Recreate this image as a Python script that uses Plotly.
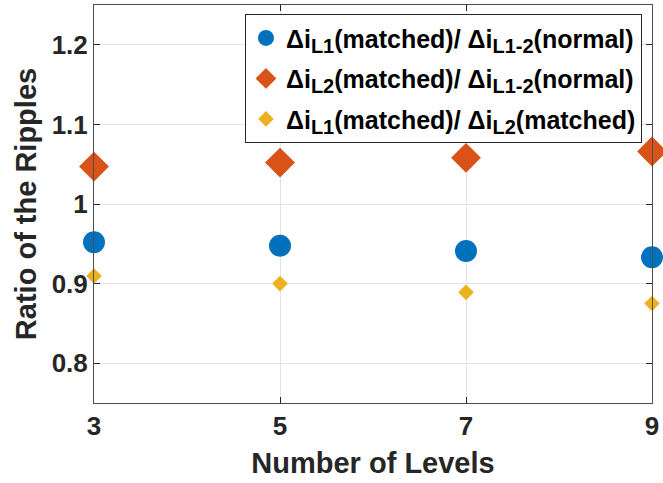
import plotly.graph_objects as go

levels = [3, 5, 7, 9]
ratio_l1_norm = [0.952, 0.9475, 0.941, 0.933]
ratio_l2_norm = [1.047, 1.052, 1.058, 1.066]
ratio_l1_l2 = [0.9095, 0.900, 0.889, 0.875]

SUB = '<sub><span style="font-size:20px">{}</span></sub>'
names = [
    "Δi" + SUB.format("L1") + "(matched)/ Δi" + SUB.format("L1-2") + "(normal)",
    "Δi" + SUB.format("L2") + "(matched)/ Δi" + SUB.format("L1-2") + "(normal)",
    "Δi" + SUB.format("L1") + "(matched)/ Δi" + SUB.format("L2") + "(matched)",
]
x_ticks = [3, 5, 7, 9]
y_ticks = [0.8, 0.9, 1.0, 1.1, 1.2]
y_tick_text = ["0.8", "0.9", "1", "1.1", "1.2"]

FONT = "Liberation Sans"
TXT = "#262626"

fig = go.Figure()
fig.add_trace(go.Scatter(x=levels, y=ratio_l1_norm, mode="markers", name=names[0],
                         legendgroup="a",
                         marker=dict(symbol="circle", size=22, color="#0072BD"),
                         cliponaxis=False))
fig.add_trace(go.Scatter(x=levels, y=ratio_l2_norm, mode="markers", name=names[1],
                         legendgroup="b",
                         marker=dict(symbol="diamond", size=23, color="#D95319"),
                         cliponaxis=False))
fig.add_trace(go.Scatter(x=levels, y=ratio_l1_l2, mode="markers", name=names[2],
                         legendgroup="c",
                         marker=dict(symbol="diamond", size=12, color="#EDB120"),
                         cliponaxis=False))

axis_common = dict(
    showline=True, linecolor="#4d4d4d", linewidth=1, mirror="ticks",
    ticks="inside", ticklen=6, tickcolor="#262626", tickwidth=1,
    showgrid=True, gridcolor="#e3e3e3", gridwidth=1, zeroline=False,
    ticklabeloverflow="allow",
    tickfont=dict(family=FONT, size=26, color=TXT, weight="bold"),
)

fig.update_layout(
    width=663, height=483,
    margin=dict(l=94, r=6, t=4, b=80),
    paper_bgcolor="white", plot_bgcolor="white",
    showlegend=True,
    legend=dict(
        x=0.982, y=0.977, xanchor="right", yanchor="top",
        bgcolor="white", bordercolor="#262626", borderwidth=1,
        font=dict(family=FONT, size=25, color="black", weight="bold"),
        itemsizing="trace", tracegroupgap=5, traceorder="grouped",
    ),
    xaxis=dict(axis_common, range=[3, 9], tickvals=x_ticks,
               title=dict(text="Number of Levels", standoff=12,
                          font=dict(family=FONT, size=29, color=TXT, weight="bold"))),
    yaxis=dict(axis_common, range=[0.75, 1.25], tickvals=y_ticks, ticktext=y_tick_text,
               title=dict(text="Ratio of the Ripples", standoff=6,
                          font=dict(family=FONT, size=29, color=TXT, weight="bold"))),
)

fig.write_html("out.html")
